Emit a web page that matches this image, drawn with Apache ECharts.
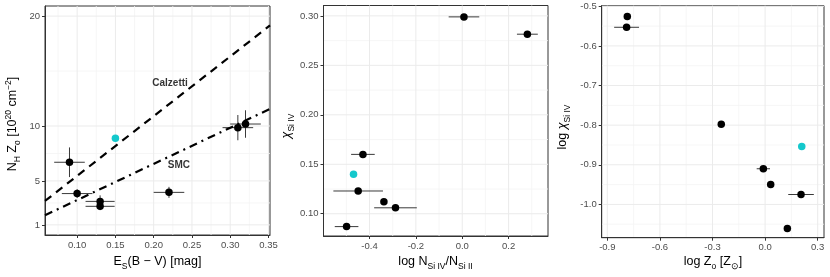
<!DOCTYPE html>
<html>
<head>
<meta charset="utf-8">
<script src="https://cdn.jsdelivr.net/npm/echarts@6/dist/echarts.min.js"></script>
<style>
html,body{margin:0;padding:0;background:#fff;}
#c{width:830px;height:277px;}
</style>
</head>
<body>
<div id="c"></div>
<script>
// ---------- Panel 1: N_H Z_o vs E_S(B-V) ----------
const p1X    = [0.09, 0.10, 0.13, 0.13, 0.22, 0.31, 0.32];
const p1Y    = [6.70, 3.85, 3.14, 2.69, 3.96, 9.85, 10.18];
const p1Xerr = [0.02, 0.02, 0.019, 0.019, 0.02, 0.02, 0.02];
const p1Yerr = [1.35, 0.40, 0.55, 0.35, 0.50, 1.15, 1.25];
const p1HlX  = [0.15];
const p1HlY  = [8.89];
const calzettiX = [0.058, 0.352];
const calzettiY = [3.18, 19.15];
const smcX = [0.058, 0.352];
const smcY = [1.88, 11.55];
const p1XTicks = [0.10, 0.15, 0.20, 0.25, 0.30, 0.35];
const p1XMinor = [0.075, 0.125, 0.175, 0.225, 0.275, 0.325];
const p1YTicks = [1, 5, 10, 20];
const p1YMinor = [3, 7.5, 15];

// ---------- Panel 2: chi_SiIV vs log N_SiIV/N_SiII ----------
const p2X    = [0.0074, 0.281, -0.4285, -0.449, -0.338, -0.288, -0.499];
const p2Y    = [0.299, 0.2815, 0.160, 0.123, 0.112, 0.106, 0.087];
const p2Xerr = [0.066, 0.045, 0.051, 0.107, 0.0, 0.092, 0.051];
const p2HlX  = [-0.469];
const p2HlY  = [0.140];
const p2XTicks = [-0.4, -0.2, 0.0, 0.2];
const p2XMinor = [-0.5, -0.3, -0.1, 0.1, 0.3];
const p2YTicks = [0.10, 0.15, 0.20, 0.25, 0.30];
const p2YMinor = [0.125, 0.175, 0.225, 0.275];

// ---------- Panel 3: log chi_SiIV vs log Z_o ----------
const p3X    = [-0.786, -0.79, -0.25, -0.01, 0.032, 0.205, 0.127];
const p3Y    = [-0.526, -0.553, -0.798, -0.910, -0.950, -0.975, -1.061];
const p3Xerr = [0.0, 0.071, 0.0, 0.038, 0.0, 0.073, 0.0];
const p3HlX  = [0.209];
const p3HlY  = [-0.854];
const p3XTicks = [-0.9, -0.6, -0.3, 0.0, 0.3];
const p3XMinor = [-0.75, -0.45, -0.15, 0.15];
const p3YTicks = [-1.0, -0.9, -0.8, -0.7, -0.6, -0.5];
const p3YMinor = [-1.05, -0.95, -0.85, -0.75, -0.65, -0.55];

// ---------- layout / style ----------
const FONT = '"Liberation Sans", Arial, sans-serif';
const TICK_COLOR = '#4D4D4D';
const BORDER = '#333333';
const CYAN = '#14C8CC';
const ranges = [
  {x: [0.058, 0.352], y: [0.08, 20.92]},
  {x: [-0.5986, 0.370], y: [0.0775, 0.3105]},
  {x: [-0.932, 0.336], y: [-1.084, -0.4985]}
];
const grids = [
  {left: 45, top: 6, width: 225, height: 229},
  {left: 323.5, top: 5.5, width: 224.5, height: 230.5},
  {left: 601.7, top: 5.7, width: 222.3, height: 232}
];

function fmt(d){ return v => (Math.abs(v) < 1e-9 ? 0 : v).toFixed(d); }

function mkAxis(kind, idx, ticks, dec){
  const r = ranges[idx][kind];
  return {
    type: 'value', gridIndex: idx, min: r[0], max: r[1],
    axisLine: {show: true, onZero: false, lineStyle: {color: BORDER, width: 1}},
    axisTick: {show: true, length: 3, customValues: ticks, lineStyle: {color: BORDER, width: 1}},
    axisLabel: {customValues: ticks, formatter: fmt(dec), color: TICK_COLOR, fontSize: 9.5,
                fontFamily: FONT, margin: 5},
    splitLine: {show: false}
  };
}

function gridLineSeries(idx, xMaj, xMin, yMaj, yMin){
  const r = ranges[idx];
  const ym = (r.y[0] + r.y[1]) / 2, xm = (r.x[0] + r.x[1]) / 2;
  const data = [];
  xMin.forEach(v => data.push([v, ym, 0, 0]));
  yMin.forEach(v => data.push([xm, v, 1, 0]));
  xMaj.forEach(v => data.push([v, ym, 0, 1]));
  yMaj.forEach(v => data.push([xm, v, 1, 1]));
  return {
    type: 'custom', xAxisIndex: idx, yAxisIndex: idx, silent: true, z: 0,
    data: data,
    renderItem: function(params, api){
      const cs = params.coordSys;
      const p = api.coord([api.value(0), api.value(1)]);
      const major = api.value(3) === 1;
      const shape = api.value(2) === 0
        ? {x1: p[0], y1: cs.y, x2: p[0], y2: cs.y + cs.height}
        : {x1: cs.x, y1: p[1], x2: cs.x + cs.width, y2: p[1]};
      return {type: 'line', shape: shape,
              style: {stroke: major ? '#EBEBEB' : '#F4F4F4', lineWidth: major ? 1 : 0.8}};
    }
  };
}

function errSeries(idx, xs, ys, xe, ye){
  const data = xs.map((x, i) => [x, ys[i], xe[i], ye ? ye[i] : 0]);
  return {
    type: 'custom', xAxisIndex: idx, yAxisIndex: idx, silent: true, z: 2,
    data: data,
    renderItem: function(params, api){
      const x = api.value(0), y = api.value(1), dx = api.value(2), dy = api.value(3);
      const ch = [];
      if (dx > 0){
        const a = api.coord([x - dx, y]), b = api.coord([x + dx, y]);
        ch.push({type: 'line', shape: {x1: a[0], y1: a[1], x2: b[0], y2: b[1]},
                 style: {stroke: '#3a3a3a', lineWidth: 1}});
      }
      if (dy > 0){
        const a = api.coord([x, y - dy]), b = api.coord([x, y + dy]);
        ch.push({type: 'line', shape: {x1: a[0], y1: a[1], x2: b[0], y2: b[1]},
                 style: {stroke: '#3a3a3a', lineWidth: 1}});
      }
      return {type: 'group', children: ch};
    }
  };
}

function ptSeries(idx, xs, ys, color){
  return {
    type: 'scatter', xAxisIndex: idx, yAxisIndex: idx, silent: true, z: 3,
    symbol: 'circle', symbolSize: 7.5,
    itemStyle: {color: color, opacity: 1},
    data: xs.map((x, i) => [x, ys[i]])
  };
}

function refLine(xs, ys, dash){
  return {
    type: 'line', xAxisIndex: 0, yAxisIndex: 0, silent: true, z: 2,
    symbol: 'none', data: xs.map((x, i) => [x, ys[i]]),
    lineStyle: {color: '#000', width: 2.2, type: dash, cap: 'butt'}
  };
}

function noteSeries(x, y, text){
  return {
    type: 'scatter', xAxisIndex: 0, yAxisIndex: 0, silent: true, z: 4,
    symbolSize: 0, data: [[x, y]],
    label: {show: true, position: 'inside', formatter: text, color: '#000',
            fontSize: 10, fontWeight: 'bold', fontFamily: FONT}
  };
}

const M = {fontSize: 12.5, fontFamily: FONT, fill: '#000', lineHeight: 18};
const S = {fontSize: 8.5, fontFamily: FONT, fill: '#000', lineHeight: 9, verticalAlign: 'bottom'};
const U = {fontSize: 8.5, fontFamily: FONT, fill: '#000', lineHeight: 9, verticalAlign: 'top'};
const MI = Object.assign({}, M, {fontStyle: 'italic'});
const richT = {m: M, s: S, u: U, mi: MI};

function title(x, y, text, rot){
  return {type: 'text', x: x, y: y, rotation: rot || 0, silent: true,
          style: {text: text, rich: richT, align: 'center', verticalAlign: 'middle',
                  font: '12.5px ' + FONT, fill: '#000'}};
}

const chart = echarts.init(document.getElementById('c'), null, {renderer: 'canvas'});
chart.setOption({
  animation: false,
  backgroundColor: '#fff',
  grid: grids.map(g => Object.assign({show: true, borderColor: BORDER, borderWidth: 1,
                                       backgroundColor: 'transparent', containLabel: false}, g)),
  xAxis: [mkAxis('x', 0, p1XTicks, 2), mkAxis('x', 1, p2XTicks, 1), mkAxis('x', 2, p3XTicks, 1)],
  yAxis: [
    Object.assign(mkAxis('y', 0, p1YTicks, 0)),
    mkAxis('y', 1, p2YTicks, 2),
    mkAxis('y', 2, p3YTicks, 1)
  ],
  series: [
    gridLineSeries(0, p1XTicks, p1XMinor, p1YTicks, p1YMinor),
    gridLineSeries(1, p2XTicks, p2XMinor, p2YTicks, p2YMinor),
    gridLineSeries(2, p3XTicks, p3XMinor, p3YTicks, p3YMinor),
    refLine(calzettiX, calzettiY, [8, 6]),
    refLine(smcX, smcY, [8, 5, 2, 5]),
    noteSeries(0.2214, 13.9, 'Calzetti'),
    noteSeries(0.233, 6.43, 'SMC'),
    errSeries(0, p1X, p1Y, p1Xerr, p1Yerr),
    ptSeries(0, p1X, p1Y, '#000'),
    ptSeries(0, p1HlX, p1HlY, CYAN),
    errSeries(1, p2X, p2Y, p2Xerr, null),
    ptSeries(1, p2X, p2Y, '#000'),
    ptSeries(1, p2HlX, p2HlY, CYAN),
    errSeries(2, p3X, p3Y, p3Xerr, null),
    ptSeries(2, p3X, p3Y, '#000'),
    ptSeries(2, p3HlX, p3HlY, CYAN)
  ],
  graphic: [
    title(157.5, 262, '{m|E}{s|S}{m|(B − V) [mag]}'),
    title(13, 124, '{m|N}{s|H}{m| Z}{s|o}{m| [10}{u|20}{m| cm}{u|−2}{m|]}', Math.PI / 2),
    title(435.5, 262, '{m|log N}{s|Si IV}{m|/N}{s|Si II}'),
    title(287, 126, '{mi|χ}{s|Si IV}', Math.PI / 2),
    title(713, 262, '{m|log Z}{s|o}{m| [Z}{s|⊙}{m|]}'),
    title(563, 127, '{m|log }{mi|χ}{s|Si IV}', Math.PI / 2)
  ]
});
</script>
</body>
</html>
